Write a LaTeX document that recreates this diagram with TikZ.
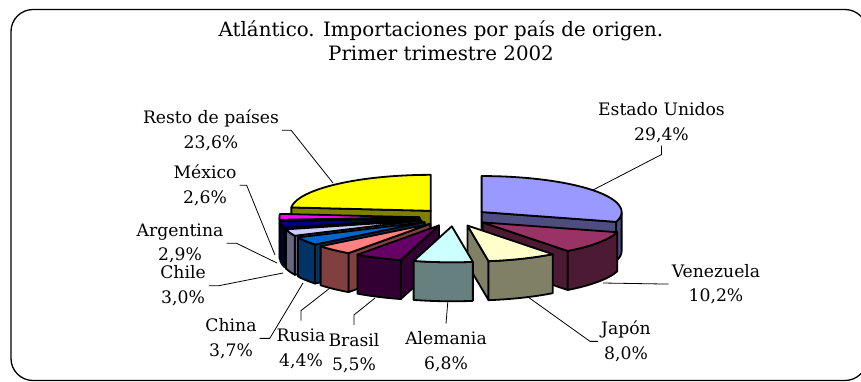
\documentclass[tikz,border=0pt]{standalone}
\usepackage{fontspec}
\setmainfont{DejaVu Serif}
% Colores (cara superior / cara lateral)
\definecolor{eeuu}{HTML}{9999FF}	\definecolor{eeuuL}{HTML}{4D4D80}
\definecolor{vene}{HTML}{993366}	\definecolor{veneL}{HTML}{4D1A33}
\definecolor{japo}{HTML}{FFFFCC}	\definecolor{japoL}{HTML}{808066}
\definecolor{alem}{HTML}{CCFFFF}	\definecolor{alemL}{HTML}{668080}
\definecolor{bras}{HTML}{660066}	\definecolor{brasL}{HTML}{330033}
\definecolor{rusi}{HTML}{FF8080}	\definecolor{rusiL}{HTML}{804040}
\definecolor{chin}{HTML}{0066CC}	\definecolor{chinL}{HTML}{003366}
\definecolor{chil}{HTML}{CCCCFF}	\definecolor{chilL}{HTML}{666680}
\definecolor{arge}{HTML}{000080}	\definecolor{argeL}{HTML}{000040}
\definecolor{mexi}{HTML}{FF00FF}	\definecolor{mexiL}{HTML}{800080}
\definecolor{rest}{HTML}{FFFF00}	\definecolor{restL}{HTML}{808000}
% Pastel: centro, radios, altura y separacion
\def\cx{454}
\def\cy{217.4}
\def\rx{140}
\def\ry{36}
\def\alto{39}
\def\expl{34.6}
\tikzset{
	borde/.style={draw=black, line width=1.8pt, line join=round},
	guia/.style={draw=black, line width=0.8pt},
	etiqueta/.style={align=center, anchor=base, inner sep=3pt, font=\fontsize{17.2}{24.5}\selectfont},
	titulo/.style={align=center, anchor=base, font=\fontsize{19.8}{24}\selectfont}
}
% Porcion: angulo inicial, angulo final, color superior, color lateral
\newcommand{\porcion}[4]{%
	\pgfmathsetmacro\med{(#1+#2)/2}
	\pgfmathsetmacro\ox{\cx+\expl*cos(\med)}
	\pgfmathsetmacro\oy{\cy-\expl*sin(\med)*\ry/\rx}
	% cara radial inicial
	\pgfmathparse{cos(#1)>0.01}
	\ifdim\pgfmathresult pt>0.5pt
		\draw[borde, fill=#4] (\ox,\oy) -- ({\ox+\rx*cos(#1)},{\oy-\ry*sin(#1)}) -- ++(0,\alto) -- (\ox,{\oy+\alto}) -- cycle;
	\fi
	% cara radial final
	\pgfmathparse{cos(#2)<-0.01}
	\ifdim\pgfmathresult pt>0.5pt
		\draw[borde, fill=#4] (\ox,\oy) -- ({\ox+\rx*cos(#2)},{\oy-\ry*sin(#2)}) -- ++(0,\alto) -- (\ox,{\oy+\alto}) -- cycle;
	\fi
	% cara exterior
	\pgfmathsetmacro\ini{max(#1,-180)}
	\pgfmathsetmacro\fin{min(#2,0)}
	\pgfmathparse{\fin-\ini>0.01}
	\ifdim\pgfmathresult pt>0.5pt
		\draw[borde, fill=#4] plot[domain=\ini:\fin, samples=30] ({\ox+\rx*cos(\x)},{\oy-\ry*sin(\x)})
			-- plot[domain=\fin:\ini, samples=30] ({\ox+\rx*cos(\x)},{\oy-\ry*sin(\x)+\alto}) -- cycle;
	\fi
	% cara superior
	\draw[borde, fill=#3] (\ox,\oy) -- plot[domain=#1:#2, samples=40] ({\ox+\rx*cos(\x)},{\oy-\ry*sin(\x)}) -- cycle;
}
\begin{document}
\begin{tikzpicture}[x=1pt, y=-1pt]
		\useasboundingbox (0,0) rectangle (861,381);
		\clip (0,0) rectangle (861,381);
		% Marco
			\draw[line width=1.3pt, rounded corners=22pt] (11,9.5) rectangle (867,380.5);
		% Titulo
			\node[titulo] (tit) at (441,60) {Atlántico. Importaciones por país de origen.\\Primer trimestre 2002};
		% Porciones (de atras hacia adelante)
			\porcion{-270}{-185.4}{rest}{restL}
			\porcion{-15.84}{90}{eeuu}{eeuuL}
			\porcion{-185.4}{-176.04}{mexi}{mexiL}
			\porcion{-176.04}{-165.6}{arge}{argeL}
			\porcion{-165.6}{-154.8}{chil}{chilL}
			\porcion{-154.8}{-141.48}{chin}{chinL}
			\porcion{-52.56}{-15.84}{vene}{veneL}
			\porcion{-141.48}{-125.64}{rusi}{rusiL}
			\porcion{-125.64}{-105.84}{bras}{brasL}
			\porcion{-81.36}{-52.56}{japo}{japoL}
			\porcion{-105.84}{-81.36}{alem}{alemL}
		% Etiquetas
			\node[etiqueta] (lEEUU) at (661.5,140) {Estado Unidos\\29,4\%};
			\node[etiqueta] (lVene) at (716,301.7) {Venezuela\\10,2\%};
			\node[etiqueta] (lJapo) at (626,359.3) {Japón\\8,0\%};
			\node[etiqueta] (lAlem) at (446,369.3) {Alemania\\6,8\%};
			\node[etiqueta] (lBras) at (354,370.7) {Brasil\\5,5\%};
			\node[etiqueta] (lRusi) at (301,366) {Rusia\\4,4\%};
			\node[etiqueta] (lChin) at (231,356) {China\\3,7\%};
			\node[etiqueta] (lChil) at (183,303.3) {Chile\\3,0\%};
			\node[etiqueta] (lArge) at (180,260.7) {Argentina\\2,9\%};
			\node[etiqueta] (lMexi) at (205,203.3) {México\\2,6\%};
			\node[etiqueta] (lRest) at (211,148.3) {Resto de países\\23,6\%};
		% Puntos sobre el pastel
			\coordinate (pEEUU) at (593,190);
			\coordinate (pVene) at (603,283);
			\coordinate (pJapo) at (528,297);
			\coordinate (pAlem) at (447.8,302);
			\coordinate (pBras) at (375,298);
			\coordinate (pRusi) at (330,288);
			\coordinate (pChin) at (303,283);
			\coordinate (pChil) at (283,273);
			\coordinate (pArge) at (277,263);
			\coordinate (pMexi) at (275,255);
			\coordinate (pRest) at (333,183);
		% Lineas guia
			\draw[guia] (lEEUU.south) -- ++(0,9) -- (pEEUU);
			\draw[guia] (pVene) -- (lVene.west);
			\draw[guia] (pJapo) -- ([xshift=-8pt]lJapo.west) -- (lJapo.west);
			\draw[guia] (pAlem) -- ([yshift=5pt]lAlem.north);
			\draw[guia] (pBras) -- ([yshift=15pt]lBras.north) -- ([yshift=5pt]lBras.north);
			\draw[guia] (pRusi) -- ([yshift=15pt]lRusi.north) -- ([yshift=5pt]lRusi.north);
			\draw[guia] (pChin) -- ([xshift=10pt]lChin.east) -- (lChin.east);
			\draw[guia] (pChil) -- ([xshift=10pt]lChil.east) -- (lChil.east);
			\draw[guia] (pArge) -- ([xshift=10pt]lArge.east) -- (lArge.east);
			\draw[guia] (pMexi) -- ([xshift=7pt]lMexi.east) -- (lMexi.east);
			\draw[guia] (pRest) -- ([xshift=9pt]lRest.east) -- (lRest.east);
	\end{tikzpicture}
\end{document}
